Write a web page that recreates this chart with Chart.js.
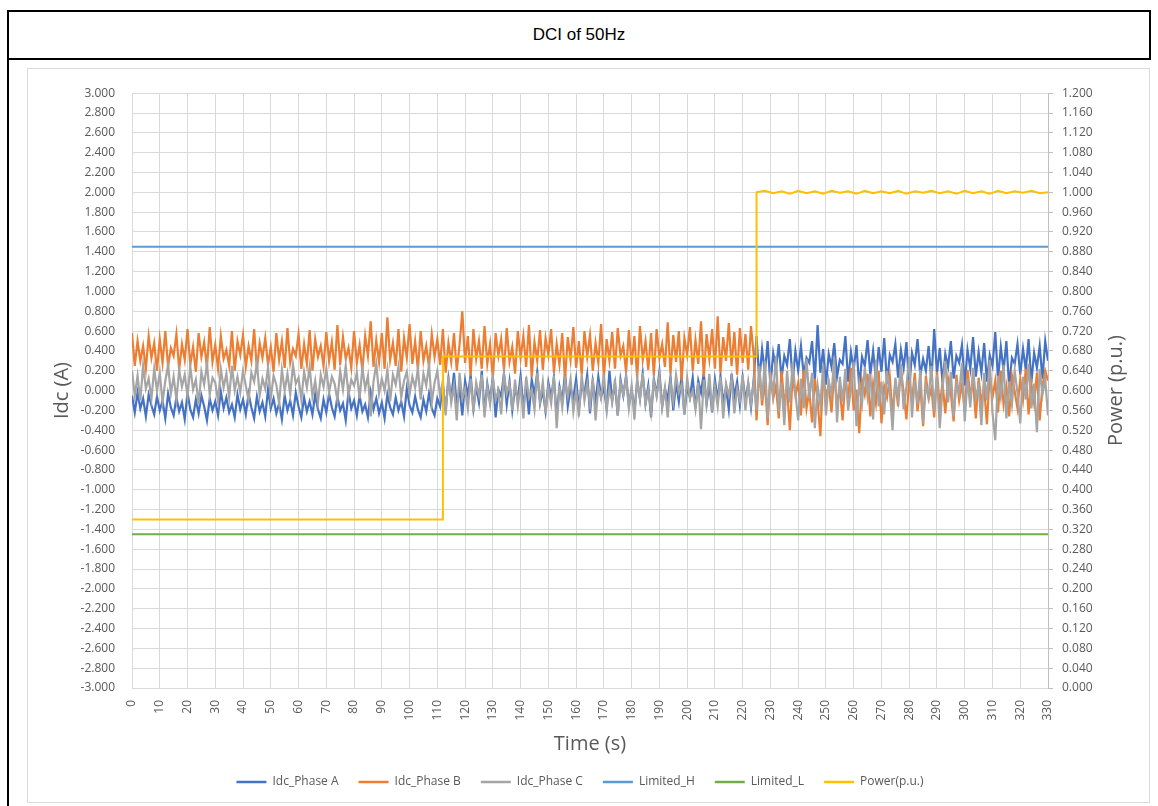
<!DOCTYPE html>
<html>
<head>
<meta charset="utf-8">
<script src="https://cdn.jsdelivr.net/npm/chart.js@4.4.1/dist/chart.umd.min.js"></script>
<style>
	body { margin: 0; background: #fff; width: 1158px; height: 806px; overflow: hidden; position: relative; }
	#title { position: absolute; left: 7px; top: 10px; width: 1140px; height: 46px; border: 2px solid #000; 
		font: 17px "Liberation Sans", Arial, sans-serif; color: #000; text-align: center; line-height: 46px; }
	#leftline { position: absolute; left: 7px; top: 58px; width: 2px; height: 748px; background: #000; }
	#box { position: absolute; left: 27px; top: 68px; width: 1121px; height: 733px; border: 1px solid #d9d9d9; }
</style>
</head>
<body>
<div id="title">DCI of 50Hz</div>
<div id="leftline"></div>
<div id="box"><canvas id="chart" width="1121" height="733"></canvas></div>
<script>
// values, one sample per second (t = 0..330)
const phaseA = [
	-0.05,-0.22,-0.02,-0.18,-0.08,-0.26,-0.04,-0.15,-0.24,-0.06,
	-0.20,-0.10,-0.28,-0.03,-0.17,-0.25,-0.07,-0.21,-0.12,-0.29,
	-0.02,-0.19,-0.27,-0.09,-0.23,-0.05,-0.16,-0.30,-0.08,-0.20,
	-0.11,-0.25,-0.01,-0.18,-0.07,-0.22,-0.14,-0.27,-0.04,-0.19,
	-0.09,-0.24,-0.03,-0.17,-0.28,-0.06,-0.21,-0.12,-0.26,0.01,
	-0.18,-0.08,-0.23,-0.13,-0.29,-0.05,-0.20,-0.10,-0.25,-0.02,
	-0.16,-0.27,-0.07,-0.21,-0.11,-0.24,-0.04,-0.19,-0.28,-0.09,
	-0.22,-0.03,-0.17,-0.26,-0.06,-0.20,-0.13,-0.30,-0.01,-0.18,
	-0.10,-0.25,-0.05,-0.21,-0.14,-0.27,-0.02,-0.19,-0.08,-0.23,
	-0.12,-0.28,-0.04,-0.17,-0.24,-0.07,-0.20,-0.11,-0.26,0.02,
	-0.15,-0.22,-0.06,-0.19,-0.27,-0.09,-0.21,-0.03,-0.18,-0.25,
	-0.08,-0.16,0.05,-0.20,0.12,-0.08,0.18,-0.15,0.02,-0.25,
	0.10,-0.05,0.16,-0.18,0.04,-0.12,0.20,-0.22,0.07,-0.10,
	0.14,-0.27,0.01,-0.06,0.17,-0.14,0.09,-0.20,0.03,-0.09,
	0.15,-0.17,0.06,-0.24,0.11,-0.04,0.19,-0.13,0.00,-0.21,
	0.08,-0.07,0.13,-0.26,0.04,-0.11,0.18,-0.16,0.02,-0.08,
	0.12,-0.19,0.06,-0.03,0.16,-0.23,0.09,-0.12,0.14,-0.06,
	0.03,-0.18,0.20,-0.10,0.07,-0.25,0.11,-0.05,0.15,-0.15,
	0.01,-0.21,0.10,-0.08,0.17,-0.13,0.05,-0.27,0.12,-0.04,
	0.19,-0.16,0.02,-0.09,0.14,-0.20,0.08,-0.11,0.16,-0.24,
	0.04,-0.07,0.13,-0.18,0.10,-0.02,0.18,-0.14,0.06,-0.22,
	0.11,-0.09,0.15,-0.12,0.03,-0.19,0.17,-0.06,0.09,-0.15,
	0.13,-0.10,0.07,-0.17,0.12,0.55,0.10,0.42,0.18,0.50,
	0.05,0.38,0.22,0.47,0.12,0.35,0.26,0.52,0.08,0.40,
	0.20,0.45,0.15,0.33,0.28,0.50,0.10,0.66,0.18,0.42,
	0.06,0.37,0.24,0.48,0.14,0.31,0.27,0.55,0.09,0.39,
	0.21,0.46,0.03,0.34,0.25,0.51,0.16,0.40,0.11,0.44,
	0.19,0.53,0.07,0.36,0.29,0.47,0.13,0.41,0.23,0.49,
	0.02,0.38,0.26,0.52,0.15,0.32,0.20,0.45,0.10,0.62,
	0.17,0.43,0.08,0.37,0.24,0.50,0.12,0.35,0.28,0.46,
	0.05,0.41,0.22,0.54,0.14,0.39,0.18,0.48,0.09,0.36,
	0.25,0.59,0.11,0.44,0.20,0.50,0.04,0.33,0.27,0.47,
	0.16,0.42,0.21,0.52,0.08,0.38,0.23,0.45,0.12,0.50,
	0.30
];
const phaseB = [
	0.58,0.25,0.50,0.30,0.45,0.22,0.55,0.33,0.48,0.20,
	0.52,0.28,0.60,0.24,0.43,0.35,0.57,0.21,0.47,0.31,
	0.62,0.26,0.44,0.19,0.58,0.34,0.49,0.23,0.64,0.29,
	0.46,0.22,0.55,0.32,0.41,0.25,0.60,0.20,0.50,0.36,
	0.56,0.24,0.45,0.30,0.62,0.21,0.48,0.33,0.53,0.26,
	0.44,0.19,0.58,0.31,0.50,0.23,0.63,0.28,0.42,0.35,
	0.57,0.22,0.47,0.27,0.61,0.20,0.52,0.34,0.45,0.25,
	0.59,0.30,0.49,0.21,0.66,0.26,0.54,0.32,0.43,0.23,
	0.60,0.28,0.46,0.20,0.55,0.35,0.70,0.24,0.51,0.29,
	0.58,0.22,0.74,0.31,0.48,0.25,0.62,0.19,0.53,0.33,
	0.67,0.27,0.50,0.21,0.60,0.30,0.45,0.24,0.57,0.34,
	0.52,0.26,0.62,0.18,0.48,0.29,0.58,0.20,0.46,0.80,
	0.28,0.55,0.15,0.62,0.32,0.50,0.22,0.65,0.27,0.47,
	0.12,0.58,0.35,0.52,0.20,0.63,0.29,0.44,0.17,0.60,
	0.33,0.55,0.24,0.66,0.14,0.49,0.30,0.61,0.21,0.53,
	0.36,0.62,0.18,0.47,0.26,0.58,0.11,0.54,0.31,0.64,
	0.23,0.50,0.16,0.60,0.34,0.56,0.20,0.48,0.28,0.67,
	0.13,0.52,0.30,0.59,0.22,0.63,0.35,0.45,0.18,0.61,
	0.26,0.55,0.12,0.65,0.31,0.50,0.21,0.58,0.15,0.62,
	0.33,0.47,0.24,0.69,0.17,0.56,0.29,0.60,0.10,0.53,
	0.36,0.64,0.20,0.51,0.27,0.70,0.14,0.57,0.32,0.62,
	0.22,0.75,0.18,0.54,0.30,0.68,0.25,0.59,0.16,0.63,
	0.28,0.57,0.21,0.65,0.35,-0.30,0.22,-0.15,0.10,-0.35,
	0.18,-0.08,0.05,-0.28,0.20,-0.12,0.02,-0.40,0.15,-0.05,
	0.08,-0.25,0.21,-0.18,0.00,-0.32,0.12,-0.10,-0.46,0.16,
	-0.06,0.06,-0.22,0.19,-0.14,0.03,-0.30,0.13,-0.09,0.23,
	-0.20,0.01,-0.43,0.10,-0.04,0.17,-0.26,0.07,-0.13,0.20,
	-0.33,0.04,-0.07,0.14,-0.24,0.09,-0.16,0.22,-0.02,-0.29,
	0.11,-0.11,0.18,-0.21,0.05,-0.36,0.15,-0.08,0.02,-0.27,
	0.19,-0.15,0.08,-0.23,0.12,-0.03,-0.31,0.16,-0.10,0.06,
	-0.19,0.21,-0.05,0.09,-0.28,0.13,-0.12,0.03,-0.34,0.17,
	-0.07,0.10,-0.22,0.20,-0.14,0.04,-0.26,0.15,-0.01,-0.18,
	0.12,-0.09,0.22,-0.24,0.07,-0.13,0.18,-0.30,0.05,0.20,
	0.10
];
const phaseC = [
	0.20,-0.05,0.15,-0.10,0.25,0.02,0.12,-0.08,0.22,0.00,
	0.18,-0.12,0.10,0.26,-0.03,0.14,-0.09,0.21,0.04,0.16,
	-0.06,0.24,0.01,0.11,-0.14,0.19,0.06,0.27,-0.04,0.13,
	0.08,-0.11,0.22,0.03,0.17,-0.07,0.25,0.00,0.14,-0.02,
	0.20,0.05,-0.10,0.18,0.09,0.28,-0.05,0.12,0.02,0.23,
	-0.08,0.15,0.06,-0.13,0.21,0.00,0.17,-0.04,0.26,0.07,
	0.13,-0.09,0.19,0.03,0.24,-0.06,0.10,-0.12,0.16,0.04,
	0.22,-0.02,0.14,0.07,-0.10,0.20,0.01,0.25,-0.05,0.11,
	0.05,0.18,-0.08,0.23,0.02,0.15,-0.26,0.09,0.27,-0.03,
	0.12,0.00,0.21,-0.11,0.16,0.06,0.24,-0.07,0.10,0.19,
	-0.04,0.14,0.03,0.22,-0.09,0.17,0.05,0.26,-0.12,0.08,
	0.20,-0.06,0.10,-0.25,0.15,-0.12,0.05,-0.30,0.18,-0.08,
	0.02,-0.18,0.12,-0.22,0.08,-0.05,0.16,-0.27,0.04,-0.14,
	0.13,-0.09,0.00,-0.24,0.17,-0.03,0.07,-0.20,0.11,-0.16,
	0.06,-0.28,0.14,-0.07,0.01,-0.19,0.18,-0.11,0.09,-0.23,
	0.03,-0.13,0.15,-0.38,0.05,-0.17,0.10,-0.06,0.12,-0.21,
	0.00,-0.26,0.16,-0.10,0.07,-0.15,0.13,-0.30,0.04,-0.08,
	0.17,-0.20,0.02,-0.12,0.11,-0.25,0.08,-0.04,0.14,-0.18,
	0.05,-0.29,0.12,-0.09,0.18,-0.14,0.01,-0.22,0.10,-0.06,
	0.15,-0.17,0.03,-0.27,0.09,-0.11,0.16,-0.02,0.06,-0.24,
	0.13,-0.08,0.00,-0.19,0.08,-0.39,0.11,-0.13,0.17,-0.21,
	0.04,-0.16,0.14,-0.28,0.07,-0.05,0.12,-0.23,0.02,-0.10,
	0.16,-0.20,0.08,-0.14,0.10,-0.20,0.25,-0.10,0.30,-0.28,
	0.15,-0.05,0.35,-0.22,0.08,-0.35,0.20,-0.12,0.28,-0.02,
	-0.30,0.12,-0.18,0.32,-0.08,0.18,-0.38,0.05,-0.15,0.26,
	-0.25,0.10,-0.04,0.33,-0.32,0.14,-0.11,0.22,-0.20,0.02,
	0.29,-0.36,0.07,-0.13,0.24,-0.06,0.17,-0.29,0.31,-0.16,
	0.09,-0.24,0.20,-0.01,-0.40,0.13,-0.09,0.27,-0.19,0.04,
	0.34,-0.27,0.11,-0.14,0.21,-0.33,0.06,-0.07,0.25,-0.21,
	0.16,-0.38,0.03,0.30,-0.12,0.19,-0.26,0.08,-0.03,0.28,
	-0.31,0.12,-0.17,0.23,-0.08,0.05,-0.35,0.18,-0.10,0.31,
	-0.22,-0.50,0.15,-0.06,0.26,-0.28,0.09,-0.14,0.20,-0.02,
	-0.33,0.14,-0.09,0.27,-0.18,0.07,-0.42,0.22,-0.04,0.12,
	-0.25
];
const limitTimes = [0, 330];
const limitHigh = [1.45, 1.45];
const limitLow = [-1.45, -1.45];
const powerTimes = [0, 112, 112, 225, 225, 228, 231, 234, 237, 240, 243, 246, 249, 252, 255, 258, 261, 264, 267, 270,
	273, 276, 279, 282, 285, 288, 291, 294, 297, 300, 303, 306, 309, 312, 315, 318, 321, 324, 327, 330];
const powerValues = [0.340, 0.340, 0.669, 0.669, 1.000, 1.003, 0.998, 1.002, 0.997, 1.003, 0.998, 1.002, 0.997, 1.003, 0.999,
	1.002, 0.997, 1.003, 0.998, 1.002, 0.998, 1.003, 0.997, 1.002, 0.999, 1.003, 0.998, 1.002, 0.997, 1.003, 0.998, 1.002,
	0.997, 1.003, 0.998, 1.002, 0.999, 1.003, 0.998, 1.000];

const seriesNames = ['Idc_Phase A', 'Idc_Phase B', 'Idc_Phase C', 'Limited_H', 'Limited_L', 'Power(p.u.)'];
const seriesColors = ['#4472C4', '#ED7D31', '#A5A5A5', '#5B9BD5', '#70AD47', '#FFC000'];

const toPoints = (xs, ys) => ys.map((y, i) => ({x: xs[i], y: y}));
const seconds = phaseA.map((_, i) => i);

const fontFamily = '"Open Sans", sans-serif';
const gray = '#595959';
const fmt = v => (Math.abs(v) < 1e-9 ? 0 : v).toFixed(3);

const rightTitle = {
	id: 'rightTitle',
	afterDraw(chart) {
		const {ctx, chartArea} = chart;
		const s = chart.scales.y1;
		ctx.save();
		ctx.translate(s.right + 4, (chartArea.top + chartArea.bottom) / 2);
		ctx.rotate(-Math.PI / 2);
		ctx.font = '20px ' + fontFamily;
		ctx.fillStyle = gray;
		ctx.textAlign = 'center';
		ctx.textBaseline = 'middle';
		ctx.fillText('Power (p.u.)', 0, 0);
		ctx.restore();
	}
};

const mk = (i, points, axis, width) => ({
	label: seriesNames[i],
	data: points,
	borderColor: seriesColors[i],
	backgroundColor: seriesColors[i],
	borderWidth: width,
	pointRadius: 0,
	tension: 0,
	yAxisID: axis,
	order: 6 - i,
});

const ctx = document.getElementById('chart').getContext('2d');
const chart = new Chart(ctx, {
	type: 'line',
	data: {
		datasets: [
			mk(0, toPoints(seconds, phaseA), 'y', 2.2),
			mk(1, toPoints(seconds, phaseB), 'y', 2.2),
			mk(2, toPoints(seconds, phaseC), 'y', 2.2),
			mk(3, toPoints(limitTimes, limitHigh), 'y', 2),
			mk(4, toPoints(limitTimes, limitLow), 'y', 2),
			mk(5, toPoints(powerTimes, powerValues), 'y1', 2),
		],
	},
	options: {
		responsive: false,
		animation: false,
		layout: { padding: { left: 20, right: 37, top: 18, bottom: 4 } },
		scales: {
			x: {
				type: 'linear',
				min: 0,
				max: 330,
				afterFit: s => { s.height = 68; },
				ticks: {
					stepSize: 10,
					autoSkip: false,
					minRotation: 90,
					maxRotation: 90,
					padding: 12,
					color: gray,
					font: { family: fontFamily, size: 12 },
				},
				grid: { color: '#d9d9d9', drawTicks: false },
				border: { color: '#d9d9d9' },
				title: {
					display: true,
					text: 'Time (s)',
					color: gray,
					font: { family: fontFamily, size: 20 },
					padding: { top: 0, bottom: 0 },
				},
			},
			y: {
				position: 'left',
				min: -3,
				max: 3,
				afterFit: s => { s.width = 84; },
				ticks: {
					stepSize: 0.2,
					autoSkip: false,
					padding: 17,
					color: gray,
					font: { family: fontFamily, size: 12 },
					callback: fmt,
				},
				grid: { color: '#d9d9d9', drawTicks: false },
				border: { color: '#d9d9d9' },
				title: {
					display: true,
					text: 'Idc (A)',
					color: gray,
					font: { family: fontFamily, size: 20 },
					padding: { top: 2, bottom: 0 },
				},
			},
			y1: {
				position: 'right',
				min: 0,
				max: 1.2,
				afterFit: s => { s.width = 64; },
				ticks: {
					stepSize: 0.04,
					autoSkip: false,
					padding: 9,
					color: gray,
					font: { family: fontFamily, size: 12 },
					callback: fmt,
				},
				grid: { drawOnChartArea: false, color: '#bfbfbf', tickLength: 5 },
				border: { color: '#bfbfbf' },
			},
		},
		plugins: {
			title: { display: false },
			tooltip: { enabled: false },
			legend: {
				position: 'bottom',
				labels: {
					usePointStyle: true,
					pointStyle: 'line',
					pointStyleWidth: 30,
					padding: 20,
					color: gray,
					font: { family: fontFamily, size: 12 },
					sort: (a, b) => a.datasetIndex - b.datasetIndex,
					generateLabels: c => Chart.defaults.plugins.legend.labels.generateLabels(c).map(l => {
						l.lineWidth = 2.5;
						return l;
					}),
				},
			},
		},
	},
	plugins: [rightTitle],
});
</script>
</body>
</html>
